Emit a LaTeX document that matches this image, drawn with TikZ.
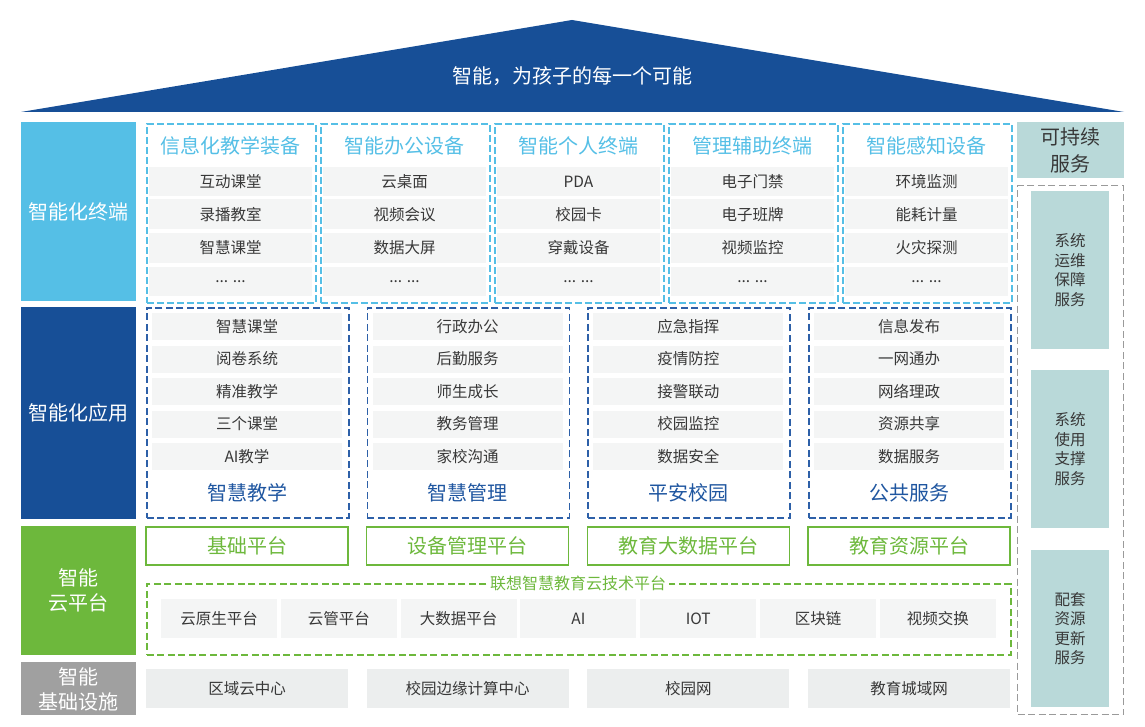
\documentclass[tikz,border=0pt]{standalone}
\usepackage{fontspec}
\setmainfont{Noto Sans CJK SC}
\definecolor{roofblue}{HTML}{174F97}
\definecolor{cyanc}{HTML}{55BFE6}
\definecolor{appblue}{HTML}{2D60A8}
\definecolor{apptxt}{HTML}{1F56A0}
\definecolor{greenc}{HTML}{6DB83C}
\definecolor{graylbl}{HTML}{A0A0A0}
\definecolor{itemgray}{HTML}{F4F5F5}
\definecolor{infragray}{HTML}{ECEEEE}
\definecolor{tealc}{HTML}{B9D9D9}
\definecolor{txt}{HTML}{383838}
\definecolor{dashgray}{HTML}{9A9A9A}
\tikzset{
  lbl/.style={fill=#1, text=white, font=\fontsize{20}{25}\selectfont, align=center, inner sep=0, anchor=north west},
  itembox/.style={fill=itemgray, text=txt, font=\fontsize{15.5}{19}\selectfont, inner sep=0},
  tbox/.style={draw=cyanc, dash pattern=on 7pt off 3pt, line width=1.6pt, inner sep=0, anchor=north west},
  abox/.style={draw=appblue, dash pattern=on 7pt off 3.5pt, line width=1.6pt, inner sep=0, anchor=north west},
  thead/.style={text=cyanc, font=\fontsize{20}{24}\selectfont, inner sep=0},
  ahead/.style={text=apptxt, font=\fontsize{20}{24}\selectfont, inner sep=0},
  gplat/.style={draw=greenc, line width=1.3pt, text=greenc, font=\fontsize{20}{24}\selectfont, inner sep=0, minimum width=202, minimum height=38},
  infra/.style={fill=infragray, text=txt, font=\fontsize{15.5}{19}\selectfont, inner sep=0, minimum width=202, minimum height=39},
  svc/.style={fill=tealc, text=txt, font=\fontsize{15.5}{19.5}\selectfont, align=center, inner sep=0, minimum width=78},
}
\begin{document}
\begin{tikzpicture}[x=1pt,y=-1pt]
\useasboundingbox (0,0) rectangle (1145,727);
% roof
\fill[roofblue] (21,112) coordinate (rl) -- (572,20) coordinate (ra) -- (1124,112) coordinate (rr) -- cycle;
\node[text=white, font=\fontsize{20}{24}\selectfont, inner sep=0] (title) at (572,76) {智能，为孩子的每一个可能};
% left labels
\node[lbl=cyanc, minimum width=115, minimum height=179] (L1) at (21,122) {};
\node[text=white, font=\fontsize{20}{25}\selectfont, inner sep=0] (L1t) at (L1.center) {智能化终端};
\node[lbl=roofblue, minimum width=115, minimum height=212] (L2) at (21,307) {};
\node[text=white, font=\fontsize{20}{25}\selectfont, inner sep=0] (L2t) at (L2.center) {智能化应用};
\node[lbl=greenc, minimum width=115, minimum height=129] (L3) at (21,526) {};
\node[text=white, font=\fontsize{20}{25}\selectfont, align=center, inner sep=0] (L3t) at (L3.center) {智能\\云平台};
\node[lbl=graylbl, minimum width=115, minimum height=53] (L4) at (21,662) {};
\node[text=white, font=\fontsize{20}{25}\selectfont, align=center, inner sep=0] (L4t) at ([yshift=-1]L4.center) {智能\\基础设施};
% terminal section
\foreach \i/\h/\a/\b/\c in {0/信息化教学装备/互动课堂/录播教室/智慧课堂, 1/智能办公设备/云桌面/视频会议/数据大屏, 2/智能个人终端/PDA/校园卡/穿戴设备, 3/管理辅助终端/电子门禁/电子班牌/视频监控, 4/智能感知设备/环境监测/能耗计量/火灾探测}{
  \pgfmathsetmacro\xl{146+\i*174}
  \pgfmathsetmacro\xc{\xl+84.5}
  \node[thead] (th\i) at (\xc,146) {\h};
  \node[itembox, minimum width=163, minimum height=29] (ta\i) at (\xc,181.5) {\a};
  \node[itembox, minimum width=163, minimum height=30] (tb\i) at (\xc,214.5) {\b};
  \node[itembox, minimum width=163, minimum height=30] (tc\i) at (\xc,248) {\c};
  \node[itembox, minimum width=163, minimum height=29] (td\i) at (\xc,281.5) {... ...};
  \node[tbox, minimum width=169, minimum height=179] (t\i) at (\xl,123) {};
}
% application section
\foreach \i/\h/\a/\b/\c/\d/\e in {0/智慧教学/智慧课堂/阅卷系统/精准教学/三个课堂/AI教学, 1/智慧管理/行政办公/后勤服务/师生成长/教务管理/家校沟通, 2/平安校园/应急指挥/疫情防控/接警联动/校园监控/数据安全, 3/公共服务/信息发布/一网通办/网络理政/资源共享/数据服务}{
  \pgfmathsetmacro\xl{146+\i*220.67}
  \pgfmathsetmacro\xc{\xl+101}
  \node[itembox, minimum width=190, minimum height=27] (aa\i) at (\xc,326.5) {\a};
  \node[itembox, minimum width=190, minimum height=27] (ab\i) at (\xc,359) {\b};
  \node[itembox, minimum width=190, minimum height=27] (ac\i) at (\xc,391.5) {\c};
  \node[itembox, minimum width=190, minimum height=27] (ad\i) at (\xc,424) {\d};
  \node[itembox, minimum width=190, minimum height=27] (ae\i) at (\xc,456.5) {\e};
  \node[ahead] (ah\i) at (\xc,493) {\h};
  \node[abox, minimum width=202, minimum height=210] (a\i) at (\xl,307) {};
  \node[infra] (inf\i) at (\xc,688.5) {};
}
% cloud platforms
\node[gplat] (g0) at (247,546) {基础平台};
\node[gplat] (g1) at (467.67,546) {设备管理平台};
\node[gplat] (g2) at (688.33,546) {教育大数据平台};
\node[gplat, line width=2.6pt] (g3) at (909,546) {教育资源平台};
\node[draw=greenc, dash pattern=on 7pt off 3.5pt, line width=1.5pt, minimum width=864, minimum height=71, inner sep=0, anchor=north west] (tech) at (146,583) {};
\node[fill=white, text=greenc, font=\fontsize{16}{19}\selectfont, inner sep=2.5pt] (techt) at (578,583) {联想智慧教育云技术平台};
\foreach \i/\t in {0/云原生平台, 1/云管平台, 2/大数据平台, 3/AI, 4/IOT, 5/区块链, 6/视频交换}{
  \pgfmathsetmacro\xc{219+\i*119.8}
  \node[itembox, minimum width=116, minimum height=39] (c\i) at (\xc,618.5) {\t};
}
% infrastructure texts
\node[text=txt, font=\fontsize{15.5}{19}\selectfont] (inft0) at (inf0.center) {区域云中心};
\node[text=txt, font=\fontsize{15.5}{19}\selectfont] (inft1) at (inf1.center) {校园边缘计算中心};
\node[text=txt, font=\fontsize{15.5}{19}\selectfont] (inft2) at (inf2.center) {校园网};
\node[text=txt, font=\fontsize{15.5}{19}\selectfont] (inft3) at (inf3.center) {教育城域网};
% right column
\node[fill=tealc, text=txt, font=\fontsize{20}{27}\selectfont, align=center, inner sep=0, minimum width=107, minimum height=56] (sus) at (1070.5,150) {可持续\\服务};
\node[draw=dashgray, dash pattern=on 7pt off 3.5pt, line width=1.3pt, minimum width=106, minimum height=529, inner sep=0, anchor=north west] (svcbox) at (1017,185) {};
\node[svc, minimum height=158] (s1) at (1070,270) {系统\\运维\\保障\\服务};
\node[svc, minimum height=158] (s2) at (1070,449) {系统\\使用\\支撑\\服务};
\node[svc, minimum height=157] (s3) at (1070,628.5) {配套\\资源\\更新\\服务};
\end{tikzpicture}
\end{document}
